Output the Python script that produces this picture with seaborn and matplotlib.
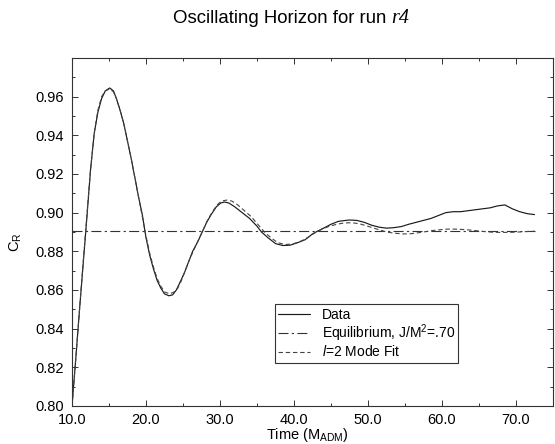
import numpy as np
import pandas as pd
import matplotlib
matplotlib.use("Agg")
import matplotlib.pyplot as plt
from matplotlib.ticker import MultipleLocator, FormatStrFormatter
import seaborn as sns

# ---- data ----
data_time = [10.0, 10.5, 11.0, 11.5, 12.0, 12.5, 13.0, 13.5, 14.0, 14.5, 15.1, 15.6, 16.0, 16.5,
             17.0, 17.5, 18.0, 18.5, 19.0, 19.5, 20.0, 20.5, 21.0, 21.5, 22.0, 22.5, 23.1, 23.6,
             24.1, 24.6, 25.2, 25.8, 26.3, 27.0, 27.6, 28.2, 28.8, 29.5, 30.1, 30.6, 31.2, 32.0,
             33.0, 34.0, 35.0, 35.6, 36.5, 37.5, 38.5, 39.5, 40.5, 41.5, 42.5, 43.2, 44.0, 45.0,
             46.0, 47.0, 47.5, 48.5, 49.5, 50.5, 51.5, 52.5, 53.4, 54.5, 55.5, 56.5, 57.5, 58.5,
             59.5, 60.5, 61.5, 62.5, 63.5, 64.5, 65.5, 66.5, 67.5, 68.5, 69.5, 70.5, 71.5, 72.5]
data_cr = [0.800, 0.824, 0.849, 0.873, 0.897, 0.922, 0.941, 0.952, 0.959, 0.963, 0.9645, 0.963,
           0.959, 0.953, 0.946, 0.937, 0.928, 0.918, 0.908, 0.899, 0.887, 0.878, 0.871, 0.865,
           0.861, 0.858, 0.857, 0.8575, 0.860, 0.864, 0.869, 0.875, 0.880, 0.885, 0.890, 0.895,
           0.899, 0.903, 0.905, 0.9055, 0.905, 0.903, 0.900, 0.897, 0.893, 0.890, 0.887, 0.884,
           0.883, 0.8832, 0.8845, 0.886, 0.889, 0.8905, 0.892, 0.894, 0.8955, 0.896, 0.8962,
           0.896, 0.895, 0.8935, 0.8925, 0.892, 0.8922, 0.8928, 0.894, 0.895, 0.896, 0.897,
           0.8985, 0.900, 0.9005, 0.9005, 0.901, 0.9015, 0.902, 0.9025, 0.9035, 0.904, 0.902,
           0.9005, 0.8995, 0.899]

fit_time = [10.0, 10.5, 11.0, 11.5, 12.0, 12.5, 13.0, 13.5, 14.0, 14.5, 15.1, 15.6, 16.0, 16.5,
            17.0, 17.5, 18.0, 18.5, 19.0, 19.5, 20.0, 20.5, 21.0, 21.5, 22.0, 22.5, 23.2, 23.8,
            24.3, 24.8, 25.3, 25.9, 26.5, 27.1, 27.7, 28.3, 28.9, 29.6, 30.2, 30.9, 31.6, 32.4,
            33.3, 34.2, 35.1, 36.0, 36.9, 37.8, 38.8, 39.8, 40.8, 41.8, 42.8, 43.8, 44.8, 45.8,
            46.8, 47.8, 48.8, 49.8, 50.8, 51.8, 52.8, 53.8, 54.8, 55.8, 56.8, 57.8, 58.8, 59.8,
            60.8, 61.8, 62.8, 63.8, 64.8, 65.8, 66.8, 67.8, 68.8, 69.8, 70.8, 71.8, 72.5]
fit_cr = [0.800, 0.824, 0.849, 0.874, 0.898, 0.922, 0.941, 0.953, 0.960, 0.963, 0.9640, 0.9625,
          0.959, 0.953, 0.946, 0.937, 0.928, 0.918, 0.908, 0.898, 0.888, 0.879, 0.872, 0.866,
          0.862, 0.859, 0.858, 0.859, 0.861, 0.865, 0.870, 0.876, 0.881, 0.886, 0.891, 0.896,
          0.900, 0.904, 0.906, 0.9065, 0.906, 0.904, 0.901, 0.898, 0.894, 0.890, 0.887, 0.8845,
          0.8835, 0.8838, 0.885, 0.887, 0.8895, 0.8915, 0.893, 0.894, 0.8947, 0.8948, 0.8943,
          0.8932, 0.892, 0.8908, 0.8898, 0.8893, 0.889, 0.8891, 0.8896, 0.8902, 0.8908, 0.8912,
          0.8915, 0.8915, 0.8913, 0.891, 0.8906, 0.8902, 0.8899, 0.8898, 0.8898, 0.8899, 0.8901,
          0.8903, 0.8904]

eq_time = [10.0, 72.6]
eq_cr = [0.8905, 0.8905]

x_ticks = [10, 20, 30, 40, 50, 60, 70]
y_ticks = [0.80, 0.82, 0.84, 0.86, 0.88, 0.90, 0.92, 0.94, 0.96]

legend_labels = ["Data", r"Equilibrium, J/M$^{2}$=.70", r"$l$=2 Mode Fit"]

# ---- style ----
sns.set_style("ticks")
plt.rcParams['font.family'] = ['Liberation Sans', 'DejaVu Sans']
plt.rcParams['mathtext.fontset'] = 'custom'
plt.rcParams['mathtext.rm'] = 'Liberation Sans'
plt.rcParams['mathtext.it'] = 'Liberation Sans:italic'
plt.rcParams['mathtext.bf'] = 'Liberation Sans:bold'
plt.rcParams['text.color'] = 'black'
plt.rcParams['axes.labelcolor'] = 'black'
plt.rcParams['xtick.color'] = 'black'
plt.rcParams['ytick.color'] = 'black'

fig = plt.figure(figsize=(5.55, 4.44), dpi=100)
ax = fig.add_axes([72/555, 1-406/444, (553-72)/555, (406-58)/444])

df_data = pd.DataFrame({"t": data_time, "c": data_cr})
df_fit = pd.DataFrame({"t": fit_time, "c": fit_cr})
df_eq = pd.DataFrame({"t": eq_time, "c": eq_cr})

sns.lineplot(data=df_data, x="t", y="c", ax=ax, color="#1a1a1a", lw=0.85,
             label=legend_labels[0], sort=False)
sns.lineplot(data=df_eq, x="t", y="c", ax=ax, color="#333333", lw=0.8,
             linestyle=(0, (9, 3, 2, 3)), label=legend_labels[1], sort=False)
sns.lineplot(data=df_fit, x="t", y="c", ax=ax, color="#444444", lw=0.8,
             linestyle=(0, (4, 2.5)), label=legend_labels[2], sort=False)

ax.set_xlim(10, 75)
ax.set_ylim(0.80, 0.98)
ax.set_xticks(x_ticks)
ax.set_yticks(y_ticks)
ax.xaxis.set_minor_locator(MultipleLocator(5))
ax.yaxis.set_minor_locator(MultipleLocator(0.01))
ax.xaxis.set_major_formatter(FormatStrFormatter('%.1f'))
ax.yaxis.set_major_formatter(FormatStrFormatter('%.2f'))
ax.tick_params(which='both', direction='in', top=True, right=True, color='#333333',
               labelcolor='black', labelsize=10.5, width=0.7)
ax.tick_params(which='major', length=4)
ax.tick_params(which='minor', length=2.5)
ax.tick_params(axis='y', pad=6)
ax.tick_params(axis='x', pad=5)
for s in ax.spines.values():
    s.set_linewidth(0.8)
    s.set_color('#333333')
    s.set_visible(True)

ax.set_xlabel(r"Time (M$_{\mathrm{ADM}}$)", fontsize=10.5, color='black')
ax.set_ylabel(r"C$_{\mathrm{R}}$", fontsize=10.5, color='black')
ax.xaxis.set_label_coords(0.49, -0.058)
ax.yaxis.set_label_coords(-0.10, 0.47)

leg = ax.legend(loc='upper left', bbox_to_anchor=(0.422, 0.293), fontsize=10,
                frameon=True, fancybox=False, edgecolor='#333333', framealpha=1,
                handlelength=2.3, handletextpad=0.8, borderpad=0.25, labelspacing=0.05,
                borderaxespad=0)
leg.get_frame().set_linewidth(0.8)
for t in leg.get_texts():
    t.set_color('black')

t1 = fig.text(173/555, 1-22.7/444, "Oscillating Horizon for run ", fontsize=13.4,
              ha='left', va='baseline', color='black')
fig.canvas.draw()
bb = t1.get_window_extent()
fig.text(bb.x1/fig.bbox.width, 1-22.7/444, "r4", fontsize=14.5, ha='left', va='baseline',
         family='Liberation Serif', style='italic', color='black')

fig.savefig("out.png", dpi=100)
